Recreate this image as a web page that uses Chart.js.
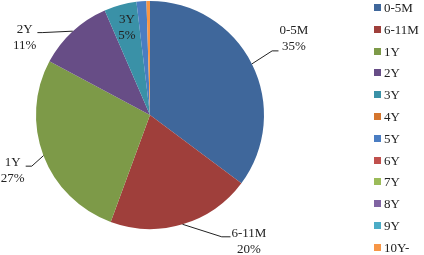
<!DOCTYPE html>
<html>
<head>
<meta charset="utf-8">
<script src="https://cdn.jsdelivr.net/npm/chart.js@4/dist/chart.umd.min.js"></script>
<style>
    html, body { margin: 0; padding: 0; background: #fff; }
    #wrap { position: relative; width: 424px; height: 255px; }
    #legend { position: absolute; left: 374px; top: 0; margin: 0; padding: 0; list-style: none;
              font-family: "Liberation Serif", "DejaVu Serif", serif; font-size: 13px; color: #222; }
    #legend li { position: absolute; left: 0; white-space: nowrap; height: 14px; line-height: 14px; }
    #legend span { display: inline-block; width: 7px; height: 7px; margin-right: 3px; vertical-align: 1px; }
</style>
</head>
<body>
<div id="wrap">
    <canvas id="pie" width="424" height="255"></canvas>
    <ul id="legend"></ul>
</div>
<script>
// Chart data
const categories = ['0-5M', '6-11M', '1Y', '2Y', '3Y', '4Y', '5Y', '6Y', '7Y', '8Y', '9Y', '10Y-'];
const shares = [35.2, 20.4, 27.2, 10.7, 4.6, 0, 1.4, 0, 0, 0, 0, 0.5];
const sliceColors = ['#3f679b', '#9f3f3b', '#7d9a48', '#674d86', '#3a91a7', '#d5762e',
                     '#4a7dc2', '#c0504d', '#9bbb59', '#8064a2', '#4bacc6', '#f79646'];

// Label placement per slice: polar angle (deg from top, clockwise) and radius factor.
// elbow is where the leader line bends; null means the label sits inside.
const labelPlacement = {
    0: { angle: 62, dist: 1.43, elbow: { angle: 62.3, dist: 1.21 }, side: 'left', yOff: 13 },
    1: { angle: 142, dist: 1.41, elbow: { angle: 149.5, dist: 1.24 }, side: 'left', yOff: -5 },
    2: { angle: 247.8, dist: 1.30, elbow: { angle: 246.6, dist: 1.13 }, side: 'right', yOff: -5 },
    3: { angle: 301.6, dist: 1.29, elbow: { angle: 307.4, dist: 1.19 }, side: 'right', yOff: -5 },
    4: { angle: 345.2, dist: 0.79, elbow: null }
};

const FONT = '13px "Liberation Serif", "DejaVu Serif", serif';

const pieLabels = {
    id: 'pieLabels',
    afterDatasetsDraw(chart) {
        const ctx = chart.ctx;
        const meta = chart.getDatasetMeta(0);
        const values = chart.data.datasets[0].data;
        const total = values.reduce((a, b) => a + b, 0);
        ctx.save();
        ctx.font = FONT;
        ctx.fillStyle = '#222';
        ctx.strokeStyle = '#222';
        ctx.lineWidth = 1;
        ctx.textAlign = 'center';
        ctx.textBaseline = 'middle';
        Object.keys(labelPlacement).forEach(key => {
            const i = Number(key);
            const arc = meta.data[i];
            const p = labelPlacement[i];
            const r = arc.outerRadius;
            const cx = arc.x, cy = arc.y;
            const polar = (deg, f) => {
                const a = deg * Math.PI / 180;
                return { x: cx + Math.sin(a) * r * f, y: cy - Math.cos(a) * r * f };
            };
            const pos = polar(p.angle, p.dist);
            const line1 = categories[i];
            const line2 = Math.round(values[i] / total * 100) + '%';
            ctx.fillText(line1, pos.x, pos.y - 8);
            ctx.fillText(line2, pos.x, pos.y + 8);

            if (p.elbow) {
                const mid = (arc.startAngle + arc.endAngle) / 2;
                const sx = cx + Math.cos(mid) * r;
                const sy = cy + Math.sin(mid) * r;
                const e = polar(p.elbow.angle, p.elbow.dist);
                const w = Math.max(ctx.measureText(line1).width, ctx.measureText(line2).width);
                const endX = p.side === 'left' ? pos.x - w / 2 - 1 : pos.x + w / 2 + 1;
                ctx.beginPath();
                ctx.moveTo(sx, sy);
                ctx.lineTo(e.x, e.y);
                ctx.lineTo(endX, e.y);
                ctx.stroke();
            }
        });
        ctx.restore();
    }
};

const chart = new Chart(document.getElementById('pie'), {
    type: 'pie',
    data: {
        labels: categories,
        datasets: [{
            data: shares,
            backgroundColor: sliceColors,
            borderWidth: 0
        }]
    },
    options: {
        responsive: false,
        animation: false,
        layout: { padding: { left: 36, right: 160, top: 1, bottom: 26 } },
        plugins: {
            legend: { display: false },
            tooltip: { enabled: false }
        }
    },
    plugins: [pieLabels]
});

// HTML legend built from the chart's own legend items
const legendEl = document.getElementById('legend');
const items = chart.options.plugins.legend.labels.generateLabels(chart);
items.forEach((item, i) => {
    const li = document.createElement('li');
    li.style.top = (i * 21.8 + 1) + 'px';
    const box = document.createElement('span');
    box.style.background = item.fillStyle;
    li.appendChild(box);
    li.appendChild(document.createTextNode(item.text));
    legendEl.appendChild(li);
});
</script>
</body>
</html>
